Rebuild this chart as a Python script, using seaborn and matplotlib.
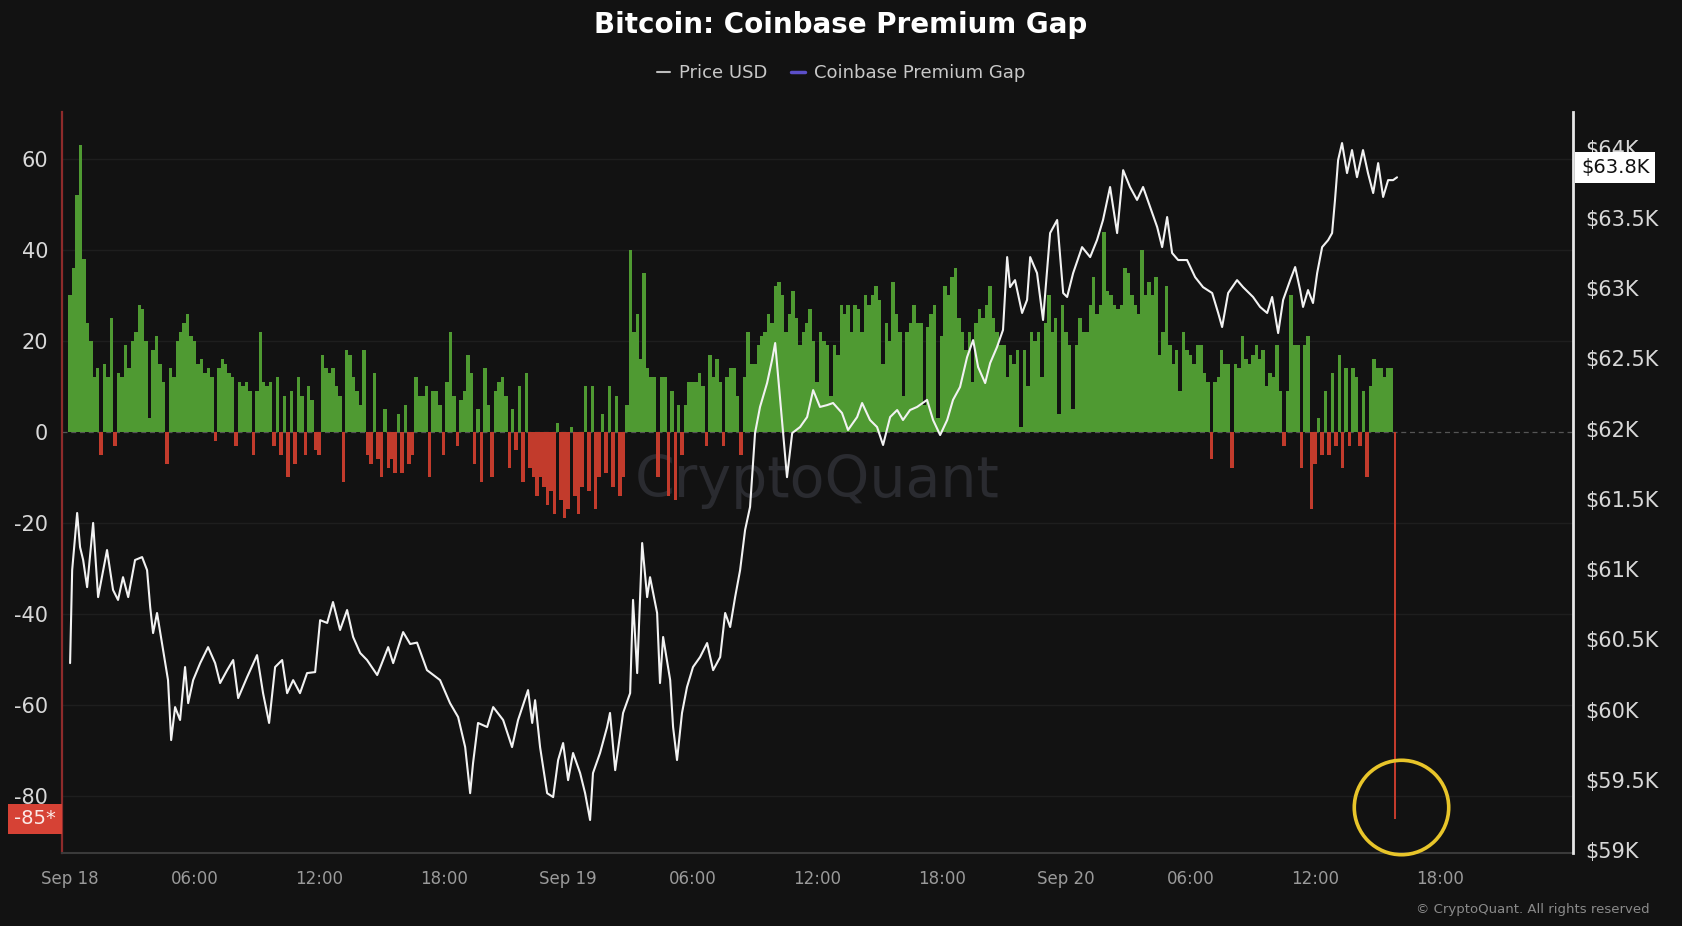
import numpy as np
import matplotlib
matplotlib.use("Agg")
import matplotlib.pyplot as plt
import seaborn as sns
from matplotlib.lines import Line2D

# ---------------- data ----------------
# Bitcoin price (USD), hours since Sep 18 00:00
price_hours = [
    0.00, 0.10, 0.34, 0.48, 0.63, 0.82, 1.11, 1.35, 1.78, 2.07,
    2.31, 2.55, 2.80, 3.13, 3.47, 3.71, 3.86, 4.00, 4.19, 4.48,
    4.72, 4.87, 5.06, 5.30, 5.54, 5.69, 5.93, 6.27, 6.65, 6.99,
    7.23, 7.57, 7.86, 8.10, 8.53, 9.01, 9.30, 9.59, 9.88, 10.22,
    10.46, 10.75, 11.08, 11.42, 11.81, 12.05, 12.39, 12.67, 13.01, 13.35,
    13.64, 13.98, 14.31, 14.80, 15.33, 15.57, 16.05, 16.39, 16.72, 17.20,
    17.83, 18.31, 18.70, 19.04, 19.28, 19.42, 19.66, 20.10, 20.39, 20.87,
    21.30, 21.59, 22.07, 22.27, 22.41, 22.65, 22.99, 23.28, 23.52, 23.76,
    24.00, 24.24, 24.58, 24.82, 25.06, 25.20, 25.54, 25.88, 26.02, 26.27,
    26.65, 26.99, 27.13, 27.33, 27.57, 27.81, 27.95, 28.29, 28.43, 28.58,
    28.92, 29.06, 29.25, 29.49, 29.73, 30.02, 30.36, 30.70, 30.99, 31.33,
    31.57, 31.81, 32.05, 32.29, 32.53, 32.77, 33.01, 33.25, 33.59, 33.83,
    33.98, 34.22, 34.55, 34.80, 35.18, 35.52, 35.81, 36.14, 36.48, 36.77,
    37.20, 37.49, 37.93, 38.17, 38.55, 38.89, 39.18, 39.52, 39.86, 40.14,
    40.48, 40.82, 41.30, 41.59, 41.93, 42.27, 42.55, 42.89, 43.23, 43.52,
    43.76, 44.10, 44.34, 44.67, 44.96, 45.16, 45.30, 45.54, 45.88, 46.12,
    46.27, 46.60, 46.89, 47.23, 47.57, 47.86, 48.05, 48.34, 48.77, 49.16,
    49.49, 49.78, 50.12, 50.46, 50.75, 51.08, 51.42, 51.71, 52.05, 52.39,
    52.63, 52.87, 53.11, 53.40, 53.83, 54.22, 54.60, 55.04, 55.33, 55.52,
    55.81, 56.24, 56.53, 57.01, 57.35, 57.69, 57.93, 58.22, 58.46, 58.80,
    59.04, 59.28, 59.42, 59.66, 59.90, 60.10, 60.34, 60.63, 60.82, 60.96,
    61.11, 61.30, 61.54, 61.78, 62.02, 62.31, 62.55, 62.80, 63.04, 63.28,
    63.52, 63.76, 63.95,
]
price_usd = [
    60331, 60993, 61400, 61157, 61065, 60872, 61329, 60801, 61136, 60852,
    60781, 60943, 60801, 61065, 61086, 60993, 60730, 60545, 60688, 60424,
    60210, 59783, 60018, 59926, 60303, 60046, 60210, 60331, 60445, 60331,
    60189, 60281, 60353, 60082, 60231, 60388, 60117, 59905, 60303, 60353,
    60117, 60210, 60117, 60260, 60267, 60637, 60617, 60766, 60567, 60709,
    60517, 60403, 60353, 60246, 60445, 60331, 60552, 60467, 60477, 60281,
    60210, 60046, 59947, 59733, 59405, 59619, 59905, 59876, 60018, 59926,
    59733, 59926, 60139, 59905, 60067, 59733, 59405, 59377, 59641, 59762,
    59498, 59691, 59548, 59405, 59214, 59548, 59691, 59876, 59976, 59569,
    59976, 60117, 60781, 60260, 61186, 60801, 60943, 60688, 60189, 60517,
    60210, 59876, 59641, 59976, 60160, 60303, 60374, 60474, 60281, 60374,
    60688, 60588, 60801, 60993, 61279, 61443, 61969, 62155, 62325, 62489,
    62610, 62205, 61655, 61969, 62012, 62083, 62275, 62155, 62168, 62183,
    62112, 61991, 62083, 62183, 62062, 62012, 61884, 62083, 62133, 62062,
    62133, 62155, 62205, 62062, 61955, 62062, 62205, 62297, 62510, 62631,
    62439, 62325, 62467, 62581, 62703, 63222, 63008, 63058, 62824, 62917,
    63222, 63108, 62774, 63393, 63486, 62966, 62938, 63108, 63293, 63222,
    63343, 63486, 63721, 63393, 63841, 63721, 63629, 63721, 63579, 63436,
    63293, 63507, 63251, 63201, 63201, 63079, 63008, 62966, 62824, 62724,
    62966, 63058, 63008, 62938, 62867, 62824, 62938, 62681, 62917, 63058,
    63151, 62987, 62867, 62987, 62895, 63108, 63293, 63343, 63393, 63629,
    63913, 64034, 63820, 63984, 63791, 63984, 63820, 63678, 63891, 63650,
    63770, 63770, 63790,
]

# Coinbase Premium Gap, one value every 10 minutes from Sep 18 00:00 (6 per hour)
premium_gap = [
    30, 36, 52, 63, 38, 24,      20, 12, 14, -5, 15, 12,      25, -3, 13, 12, 19, 14,
    20, 22, 28, 27, 20, 3,       18, 21, 15, 11, -7, 14,      12, 20, 22, 24, 26, 21,
    20, 15, 16, 13, 14, 12,      -2, 14, 16, 15, 13, 12,      -3, 11, 10, 11, 9, -5,
    9, 22, 11, 10, 11, -3,       12, -5, 8, -10, 9, -7,       12, 8, -5, 10, 7, -4,
    -5, 17, 14, 13, 14, 10,      8, -11, 18, 17, 12, 9,       6, 18, -5, -7, 13, -6,
    -10, 5, -8, -6, -9, 4,       -9, 6, -7, -5, 12, 8,        8, 10, -10, 9, 9, 6,
    -5, 11, 22, 8, -3, 7,        9, 17, 13, -7, 5, -11,       14, 6, -10, 9, 11, 12,
    8, -8, 5, -4, 10, -11,       13, -8, -10, -14, -10, -12,  -16, -13, -18, 2, -15, -19,
    -17, 1, -14, -18, -12, 10,   -13, 10, -17, -10, 4, -9,    10, -12, 8, -14, -10, 6,
    40, 22, 26, 16, 35, 14,      12, 12, -10, 12, 12, -14,    9, -15, 6, -5, 6, 11,
    11, 11, 13, 10, -3, 17,      12, 16, 11, -3, 12, 14,      14, 8, -5, 12, 22, 15,
    15, 19, 21, 22, 26, 24,      32, 33, 30, 22, 26, 31,      25, 19, 22, 24, 27, 20,
    11, 22, 20, 19, 8, 19,       17, 28, 26, 28, 22, 28,      27, 22, 30, 28, 30, 32,
    29, 15, 24, 20, 33, 26,      22, 8, 22, 24, 28, 24,       24, 6, 23, 26, 28, 3,
    21, 32, 30, 34, 36, 25,      22, 18, 22, 11, 24, 27,      25, 28, 32, 25, 22, 19,
    19, 12, 17, 15, 18, 1,       18, 10, 22, 20, 22, 12,      24, 30, 22, 25, 4, 28,
    22, 19, 5, 19, 25, 22,       22, 28, 34, 26, 28, 44,      31, 30, 28, 27, 28, 36,
    35, 30, 28, 26, 40, 30,      33, 30, 34, 17, 22, 32,      19, 15, 18, 9, 22, 18,
    17, 15, 19, 19, 13, 11,      -6, 11, 12, 18, 15, 15,      -8, 15, 14, 21, 16, 15,
    17, 19, 16, 18, 10, 13,      12, 19, 9, -3, 9, 30,        19, 19, -8, 19, 21, -17,
    -7, 3, -5, 9, -5, 13,        -3, 17, -8, 14, -3, 14,      12, -3, 9, -10, 10, 16,
    14, 14, 12, 14, 14, -85,
]

x_tick_hours = [0, 6, 12, 18, 24, 30, 36, 42, 48, 54, 60, 66]
x_tick_labels = ["Sep 18", "06:00", "12:00", "18:00", "Sep 19", "06:00",
                 "12:00", "18:00", "Sep 20", "06:00", "12:00", "18:00"]
gap_ticks = [-80, -60, -40, -20, 0, 20, 40, 60]
price_ticks = [59000, 59500, 60000, 60500, 61000, 61500, 62000, 62500, 63000, 63500, 64000]

assert len(price_hours) == len(price_usd)

# ---------------- style ----------------
sns.set_theme(style="dark")
plt.rcParams['font.family'] = ['DejaVu Sans']

BG = '#121212'
GREEN = '#4f9a32'
RED = '#c23b2c'

fig = plt.figure(figsize=(16.82, 9.26), dpi=100, facecolor=BG)
ax = fig.add_axes([62 / 1682, 1 - 853 / 926, 1511 / 1682, 741 / 926])
ax.set_facecolor(BG)

step = 1 / 6
gap_hours = np.arange(len(premium_gap)) * step
gap_colors = [GREEN if v >= 0 else RED for v in premium_gap]
gap_widths = [step] * (len(premium_gap) - 1) + [0.09]

ax.text(0.5, 0.502, "CryptoQuant", transform=ax.transAxes, ha='center', va='center',
        fontsize=41, fontweight='normal', color='#2a2b30', zorder=0.5)
ax.bar(gap_hours, premium_gap, width=gap_widths, color=gap_colors, linewidth=0,
       align='center', zorder=2)
ax.axhline(0, color='#555555', lw=0.9, ls=(0, (4, 3)), zorder=1.5)

ax.set_xlim(-0.39, 72.43)
ax.set_ylim(-92.5, 70.3)
ax.set_yticks(gap_ticks)
ax.set_yticklabels([str(t) for t in gap_ticks])
ax.set_xticks(x_tick_hours)
ax.set_xticklabels(x_tick_labels)
ax.grid(False)
for t in gap_ticks:
    if t != 0:
        ax.axhline(t, color='#1e1e1e', lw=1.0, zorder=0.8)
ax.tick_params(axis='y', colors='#d8d8d8', labelsize=15, length=0, pad=10)
ax.tick_params(axis='x', colors='#4a4a4a', labelsize=12, length=5, width=1, pad=7)
ax.tick_params(axis='x', labelcolor='#9a9a9a')
for s in ['top', 'right']:
    ax.spines[s].set_visible(False)
ax.spines['left'].set_color('#8e2b2b')
ax.spines['left'].set_linewidth(1.6)
ax.spines['bottom'].set_color('#3a3a3a')
ax.spines['bottom'].set_linewidth(1.5)
ax.set_xlabel('')
ax.set_ylabel('')

# price on right axis
ax2 = ax.twinx()
ax2.patch.set_visible(False)
sns.lineplot(x=price_hours, y=price_usd, ax=ax2, color='#f2f2f2', lw=1.5,
             legend=False, zorder=4)
ax2.set_ylim(58979, 64255)
ax2.set_xlim(-0.39, 72.43)
ax2.set_yticks(price_ticks)
ax2.set_yticklabels([f"${v / 1000:g}K" for v in price_ticks])
ax2.tick_params(axis='y', colors='#d8d8d8', labelsize=15, length=0, pad=9)
ax2.grid(False)
for s in ['top', 'left', 'bottom']:
    ax2.spines[s].set_visible(False)
ax2.spines['right'].set_color('#e6e6e6')
ax2.spines['right'].set_linewidth(2)
ax2.set_ylabel('')

# last value labels
ax.annotate(f"{premium_gap[-1]}*", xy=(0, premium_gap[-1]),
            xycoords=('axes fraction', 'data'), xytext=(-4.5, 0),
            textcoords='offset points', ha='right', va='center',
            color='#fbe9e7', fontsize=14,
            bbox=dict(boxstyle='square,pad=0.3', fc='#d64235', ec='none'),
            annotation_clip=False, zorder=6)
ax2.annotate(f"${price_usd[-1] / 1000:.1f}K", xy=(1, price_usd[-1]),
             xycoords=('axes fraction', 'data'), xytext=(5.8, 7),
             textcoords='offset points', ha='left', va='center',
             color='#111111', fontsize=14,
             bbox=dict(boxstyle='square,pad=0.3', fc='white', ec='none'),
             annotation_clip=False, zorder=6)

# highlight circle on the last gap value
ax.plot([gap_hours[-1] + 0.3], [premium_gap[-1] + 2.5], marker='o', ms=68,
        mfc='none', mec='#e8c52a', mew=2.6, clip_on=False, zorder=7)

# title, legend, footer
fig.text(0.5, 1 - 25 / 926, "Bitcoin: Coinbase Premium Gap", ha='center', va='center',
         fontsize=20, fontweight='bold', color='white')
handles = [Line2D([], [], color='#bdbdbd', lw=1.5),
           Line2D([], [], color='#5b4fc9', lw=2.5)]
fig.legend(handles=handles, labels=['Price USD', 'Coinbase Premium Gap'],
           loc='center', bbox_to_anchor=(0.5, 1 - 73 / 926), ncol=2, frameon=False,
           fontsize=13, labelcolor='#c8c8c8', handlelength=0.75, handletextpad=0.5,
           columnspacing=1.3)
fig.text(1 - 32 / 1682, 1 - 909 / 926, "© CryptoQuant. All rights reserved",
         ha='right', va='center', fontsize=9.5, color='#8a8a8a')

fig.savefig("out.png", dpi=100, facecolor=BG)
